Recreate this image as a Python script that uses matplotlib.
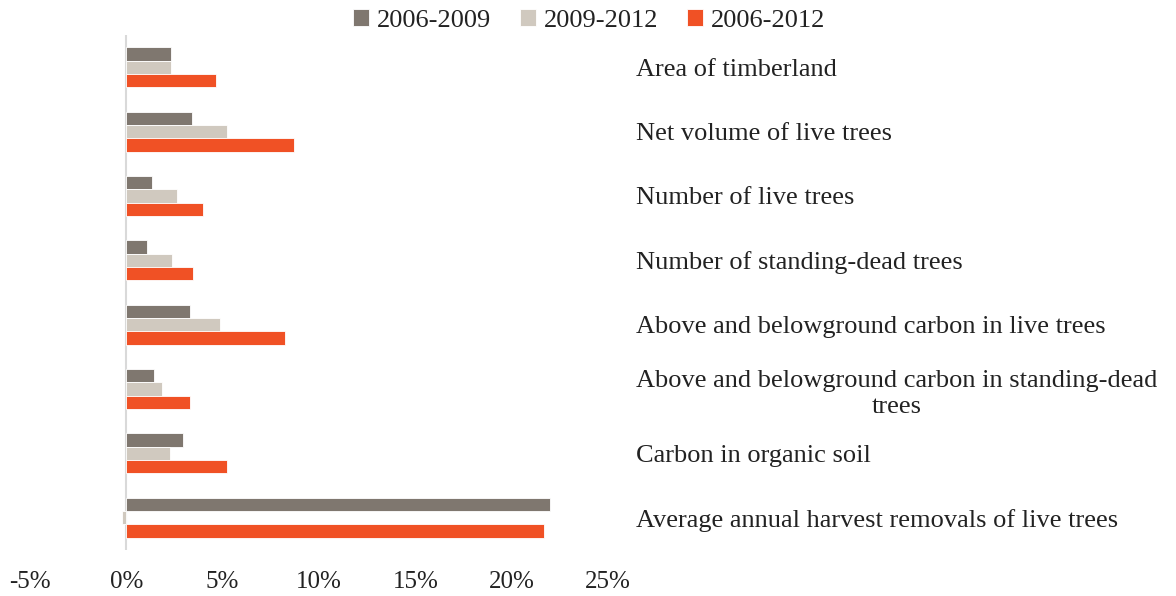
import matplotlib.pyplot as plt
import numpy as np

categories = [
    'Area of timberland',
    'Net volume of live trees',
    'Number of live trees',
    'Number of standing-dead trees',
    'Above and belowground carbon in live trees',
    'Above and belowground carbon in standing-dead\ntrees',
    'Carbon in organic soil',
    'Average annual harvest removals of live trees',
]
series_names = ['2006-2009', '2009-2012', '2006-2012']
v_2006_2009 = [2.3, 3.4, 1.35, 1.05, 3.3, 1.45, 2.95, 22.0]
v_2009_2012 = [2.3, 5.2, 2.65, 2.35, 4.85, 1.85, 2.25, -0.25]
v_2006_2012 = [4.65, 8.7, 4.0, 3.45, 8.25, 3.3, 5.25, 21.7]
xticks = [-5, 0, 5, 10, 15, 20, 25]

colors = ['#7f776f', '#d0c9bf', '#f05125']

plt.rcParams['font.family'] = ['Liberation Serif', 'DejaVu Serif']

fig = plt.figure(figsize=(11.76, 5.96), dpi=100)
ax = fig.add_axes([0.0255, 0.0772, 0.4915, 0.8641])

n = len(categories)
y = np.arange(n)[::-1].astype(float)
h = 0.207
data = [v_2006_2009, v_2009_2012, v_2006_2012]
for i, (vals, name, c) in enumerate(zip(data, series_names, colors)):
    ax.barh(y + (1 - i) * h, vals, height=h, color=c, label=name,
            edgecolor='white', linewidth=0.6)

ax.set_xlim(-5, 25)
ax.set_ylim(-0.5, n - 0.5)
ax.set_xticks(xticks)
ax.set_xticklabels([f'{t}%' for t in xticks], fontsize=18, color='#222222')
ax.tick_params(axis='x', length=0, pad=15)

ax.yaxis.tick_right()
ax.set_yticks(y)
ax.set_yticklabels(categories, fontsize=19, color='#222222')
ax.tick_params(axis='y', length=0, pad=20)
for lab in ax.get_yticklabels():
    lab.set_multialignment('center')
    lab.set_linespacing(1.25)

for s in ax.spines.values():
    s.set_visible(False)
ax.axvline(0, color='#d9d9d9', linewidth=1.5, zorder=0)

fig.legend(loc='center', bbox_to_anchor=(0.501, 0.966), ncol=3, frameon=False,
           fontsize=19, handlelength=0.6, handleheight=0.6, handletextpad=0.3,
           columnspacing=1.1, labelcolor='#222222')

fig.savefig('out.png', dpi=100)
